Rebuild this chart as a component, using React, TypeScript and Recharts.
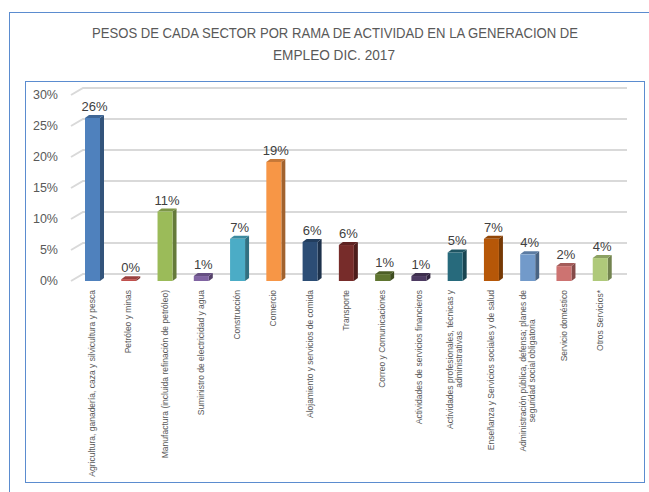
import React from 'react';
import { BarChart, Bar, XAxis, YAxis, CartesianGrid, Cell, LabelList } from 'recharts';

const categories = [
  'Agricultura, ganadería, caza y silvicultura y pesca',
  'Petróleo y minas',
  'Manufactura (incluida refinación de petróleo)',
  'Suministro de electricidad y agua',
  'Construcción',
  'Comercio',
  'Alojamiento y servicios de comida',
  'Transporte',
  'Correo y Comunicaciones',
  'Actividades de servicios financieros',
  'Actividades profesionales, técnicas y\nadministrativas',
  'Enseñanza  y  Servicios sociales y de salud',
  'Administración pública, defensa; planes de\nseguridad social obligatoria',
  'Servicio doméstico',
  'Otros Servicios*',
];

const values = [26.3, 0.3, 11.2, 0.8, 6.8, 19.2, 6.3, 5.8, 1.1, 0.8, 4.6, 6.8, 4.3, 2.4, 3.7];

const colors = [
  '#4f81bd', '#c0504d', '#9bbb59', '#8064a2', '#4bacc6', '#f79646', '#2c4d75', '#772c2a',
  '#5f7530', '#4d3b62', '#276a7c', '#b65708', '#729aca', '#cd7371', '#afc97a',
];

const yTicks = [0, 5, 10, 15, 20, 25, 30];

const data = categories.map((name, i) => ({ name, value: values[i] }));

const shade = (hex: string, f: number) => {
  const n = parseInt(hex.slice(1), 16);
  const r = Math.round(((n >> 16) & 255) * f);
  const g = Math.round(((n >> 8) & 255) * f);
  const b = Math.round((n & 255) * f);
  return `rgb(${r},${g},${b})`;
};

const DX = 4;
const DY = 3;
const LABEL_FONT = 8.5;

const Bar3D = (props: any) => {
  const { x, y, width, height, fill } = props;
  if (width == null || height == null) return null;
  return (
    <g>
      <polygon
        points={`${x + width},${y} ${x + width + DX},${y - DY} ${x + width + DX},${y + height - DY} ${x + width},${y + height}`}
        fill={shade(fill, 0.65)}
      />
      <polygon
        points={`${x},${y} ${x + DX},${y - DY} ${x + width + DX},${y - DY} ${x + width},${y}`}
        fill={shade(fill, 0.8)}
      />
      <rect x={x} y={y} width={width} height={height} fill={fill} />
    </g>
  );
};

let ctx: CanvasRenderingContext2D | null = null;
const measure = (s: string) => {
  if (!ctx) ctx = document.createElement('canvas').getContext('2d');
  if (!ctx) return s.length * 4;
  ctx.font = `${LABEL_FONT}px "Liberation Sans", Arial, sans-serif`;
  return ctx.measureText(s).width;
};

const CategoryTick = (props: any) => {
  const { x, y, payload } = props;
  const lines = String(payload.value).split('\n');
  const top = y + 1;
  if (lines.length === 1) {
    return (
      <text
        transform={`translate(${x},${top}) rotate(-90)`}
        textAnchor="end"
        dy="0.35em"
        fontSize={LABEL_FONT}
        fill="#595959"
        fontFamily='"Liberation Sans", Arial, sans-serif'
      >
        {lines[0]}
      </text>
    );
  }
  const w = Math.max(...lines.map(measure));
  return (
    <text
      transform={`translate(${x},${top}) rotate(-90)`}
      textAnchor="middle"
      fontSize={LABEL_FONT}
      fill="#595959"
      fontFamily='"Liberation Sans", Arial, sans-serif'
    >
      {lines.map((l, i) => (
        <tspan key={i} x={-w / 2} dy={i === 0 ? '-0.2em' : '1.1em'}>
          {l}
        </tspan>
      ))}
    </text>
  );
};

const GridLine = (props: any) => {
  const { x1, x2, y1 } = props;
  return (
    <path
      key={props.key}
      d={`M${x1 - 3},${y1} L${x1 + 9},${y1 - 7} L${x2 + 9},${y1 - 7}`}
      fill="none"
      stroke="#d9d9d9"
      strokeWidth={2}
    />
  );
};

const ValueLabel = (props: any) => {
  const { x, y, width, value } = props;
  return (
    <text
      x={x + width / 2 + 2}
      y={y - 7}
      textAnchor="middle"
      fontSize={13}
      fill="#404040"
      fontFamily='"Liberation Sans", Arial, sans-serif'
    >
      {`${Math.round(value)}%`}
    </text>
  );
};

export default function App() {
  return (
    <div style={{ position: 'absolute', left: 0, top: 0, width: 649, height: 492, overflow: 'hidden', background: '#fff' }}>
      <div style={{ position: 'absolute', left: 9, top: 12, width: 700, height: 600, border: '1.5px solid #5b8ccf', boxSizing: 'border-box' }} />
      <div style={{ position: 'absolute', left: 25, top: 81, width: 620, height: 402, border: '1.5px solid #5b8ccf', boxSizing: 'border-box' }} />
      <svg style={{ position: 'absolute', left: 0, top: 0 }} width={649} height={80}>
        <text x={335} y={38} textAnchor="middle" fontSize={14} fill="#595959" fontFamily='"Liberation Sans", Arial, sans-serif' textLength={486} lengthAdjust="spacingAndGlyphs">
          PESOS DE CADA SECTOR POR RAMA DE ACTIVIDAD EN LA GENERACION DE
        </text>
        <text x={334} y={60} textAnchor="middle" fontSize={14} fill="#595959" fontFamily='"Liberation Sans", Arial, sans-serif' textLength={122} lengthAdjust="spacingAndGlyphs">
          EMPLEO DIC. 2017
        </text>
      </svg>
      <div style={{ position: 'absolute', left: 0, top: 0 }}>
        <BarChart width={649} height={492} data={data} margin={{ top: 95, right: 31, left: 14, bottom: 11 }}>
          <CartesianGrid horizontal={GridLine} vertical={false} />
          <YAxis
            domain={[0, 30]}
            ticks={yTicks}
            tickFormatter={(v: number) => `${v}%`}
            width={60}
            tickLine={false}
            axisLine={false}
            tickMargin={10}
            tick={{ fontSize: 12.5, fill: '#595959', fontFamily: '"Liberation Sans", Arial, sans-serif' }}
          />
          <XAxis dataKey="name" interval={0} height={200} tickLine={false} axisLine={false} tick={<CategoryTick />} />
          <Bar dataKey="value" barSize={15} shape={<Bar3D />} isAnimationActive={false}>
            {data.map((d, i) => (
              <Cell key={d.name} fill={colors[i]} />
            ))}
            <LabelList dataKey="value" content={<ValueLabel />} />
          </Bar>
        </BarChart>
      </div>
    </div>
  );
}
